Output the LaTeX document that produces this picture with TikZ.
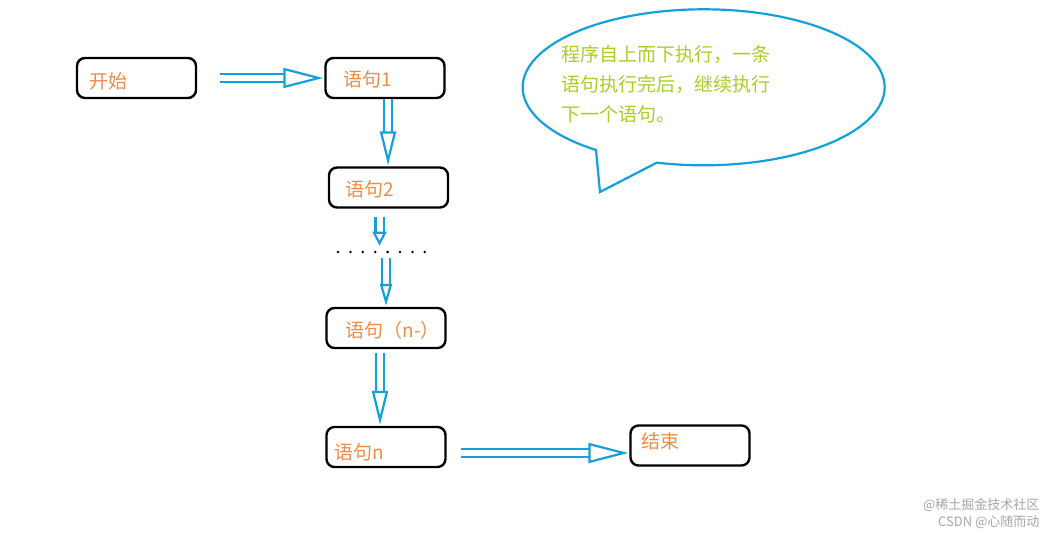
\documentclass[tikz,border=0pt]{standalone}
\usepackage{fontspec}
\setmainfont{Liberation Serif}
\newfontfamily\cjk{Noto Sans CJK SC}
\usetikzlibrary{positioning,arrows.meta}
\definecolor{boxtext}{RGB}{238,140,70}
\definecolor{noteblue}{RGB}{20,160,220}
\definecolor{notetext}{RGB}{170,205,40}
\tikzset{
  stmt/.style={draw=black, line width=2.4pt, rounded corners=8pt, minimum width=119pt, minimum height=40pt, inner sep=0pt},
  lbl/.style={text=boxtext, font=\cjk\fontsize{19pt}{21pt}\selectfont, anchor=west},
  flow/.style={draw=noteblue, line width=2.2pt, double=white, double distance=6pt, -{Triangle[open, length=40pt, width=20pt, line width=2.2pt]}, shorten >=1pt},
  flowv/.style={flow, -{Triangle[open, length=34pt, width=16pt, line width=2.2pt]}}
}
\begin{document}
\begin{tikzpicture}[x=1pt, y=-1pt]
  \useasboundingbox (0,0) rectangle (1057,538);

  % boxes
  \node[stmt] (start) at (136.5,78) {};
  \node[stmt] (s1) at (385,78) {};
  \node[stmt] (s2) at (388.5,187.5) {};
  \node[stmt] (sn1) at (386,328) {};
  \node[stmt] (sn) at (386,447) {};
  \node[stmt] (end) at (690,445.5) {};

  \node[lbl] at (86,81) {开始};
  \node[lbl] at (340,79) {语句1};
  \node[lbl] at (342,189) {语句2};
  \node[lbl] at (342,330) {语句（n-）};
  \node[lbl] at (331,452) {语句n};
  \node[lbl] at (638,441) {结束};

  % dots
  \foreach \i in {0,...,7}
    \fill (338+\i*12.4,252) circle (1.4pt);

  % arrows
  \draw[flow] (start.east) ++(23,0) coordinate (t1) -- (t1 -| s1.west);
  \draw[flowv] (s1.south) ++(3,0) coordinate (t2) -- (t2 |- s2.north);
  \draw[flowv, -{Triangle[open, length=14pt, width=14pt, line width=2.2pt]}] (s2.south) ++(-9,8) coordinate (t3) -- ++(0,30);
  \coordinate (t4) at (386,258);
  \draw[flowv, -{Triangle[open, length=22pt, width=12pt, line width=2.2pt]}] (t4) -- (t4 |- sn1.north);
  \draw[flowv] (sn1.south) ++(-6,4) coordinate (t5) -- (t5 |- sn.north);
  \draw[flow] (sn.east) ++(14,6) coordinate (t6) -- (t6 -| end.west);

  % callout
  \draw[noteblue, line width=2.2pt] (600,192) -- (596,150)
    arc[start angle=126.5, end angle=465, x radius=181, y radius=78] -- cycle;
  \node[text=notetext, font=\cjk\fontsize{19pt}{30pt}\selectfont, align=left, anchor=north west] (note) at (558,42)
    {程序自上而下执行，一条\\语句执行完后，继续执行\\下一个语句。};

  % watermark
  \node[text=gray!70, font=\cjk\fontsize{13pt}{14pt}\selectfont, anchor=east] (wm1) at (1043,505) {@稀土掘金技术社区};
  \node[text=gray!70, font=\cjk\fontsize{13pt}{14pt}\selectfont, anchor=east] (wm2) at (1043,522) {CSDN @心随而动};
\end{tikzpicture}
\end{document}
